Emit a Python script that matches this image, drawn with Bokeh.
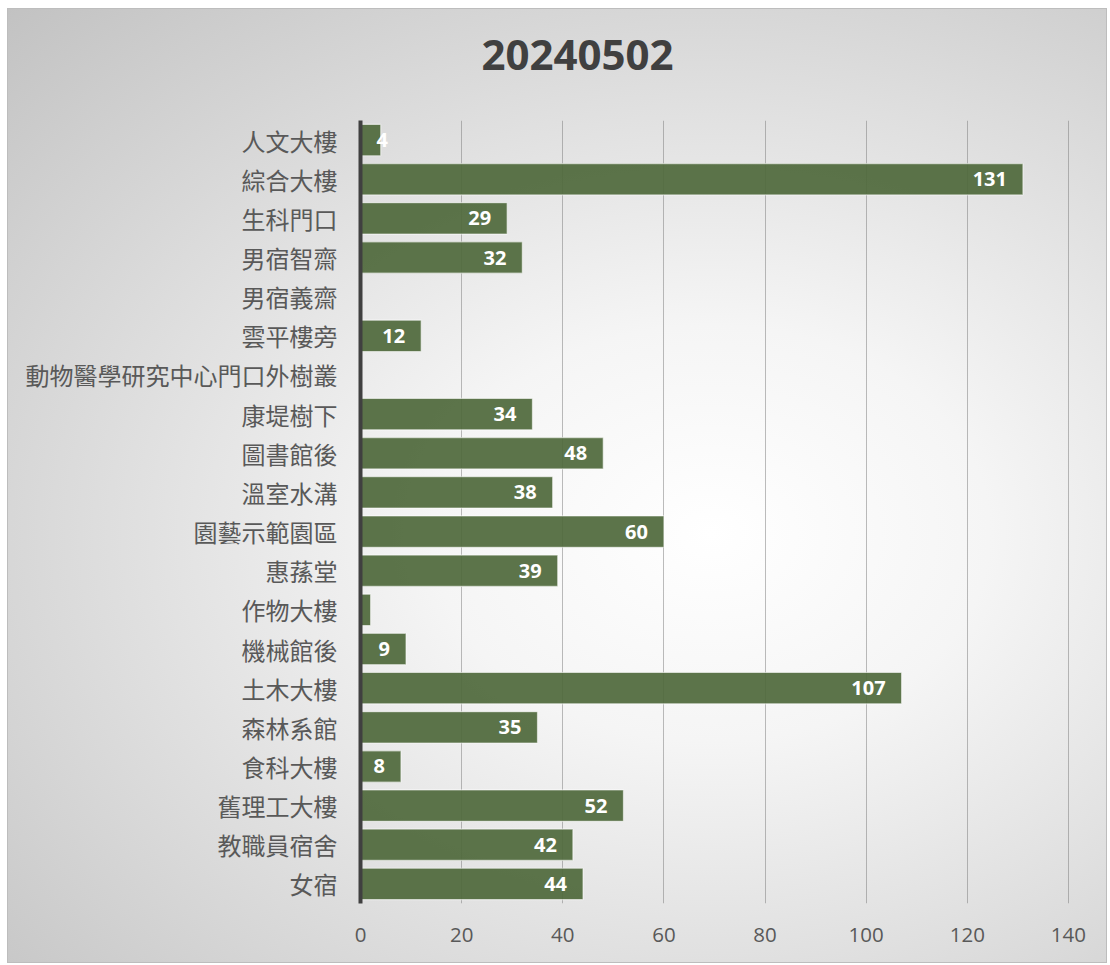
from bokeh.plotting import figure
from bokeh.models import ColumnDataSource, FactorRange, Range1d, FixedTicker, Title
from bokeh.core.properties import value
from bokeh.embed import file_html
from bokeh.resources import INLINE

title_text = "20240502"
categories = ["人文大樓", "綜合大樓", "生科門口", "男宿智齋", "男宿義齋", "雲平樓旁",
              "動物醫學研究中心門口外樹叢", "康堤樹下", "圖書館後", "溫室水溝", "園藝示範園區",
              "惠蓀堂", "作物大樓", "機械館後", "土木大樓", "森林系館", "食科大樓",
              "舊理工大樓", "教職員宿舍", "女宿"]
counts = [4, 131, 29, 32, 0, 12, 0, 34, 48, 38, 60, 39, 2, 9, 107, 35, 8, 52, 42, 44]
data_labels = ["4", "131", "29", "32", "", "12", "", "34", "48", "38", "60", "39", "",
               "9", "107", "35", "8", "52", "42", "44"]
x_ticks = [0, 20, 40, 60, 80, 100, 120, 140]

BAR = "#50693C"
TXT = "#595959"

p = figure(width=1100, height=955, output_backend="svg", toolbar_location=None,
           y_range=FactorRange(factors=categories[::-1]), x_range=Range1d(0, 141),
           min_border_left=353, min_border_right=34, min_border_top=112, min_border_bottom=60)
p.background_fill_alpha = 0
p.border_fill_alpha = 0
p.outline_line_color = None
p.styles = {
    "margin": "8px 0 0 7px",
    "background": "radial-gradient(ellipse farthest-corner at 64% 55%, #ffffff 0%, #f5f5f5 28%, #c2c2c2 100%)",
    "box-shadow": "inset 0 0 0 1px #bdbdbd",
}

# default title left empty; a blank spacer title sits next to the frame,
# the real title is stacked above it
p.title.text = ""
p.add_layout(Title(text=" ", text_font_size="10px", standoff=38), "above")
p.add_layout(Title(text=title_text, align="left", offset=121, standoff=0,
                   text_font="Open Sans", text_font_style="bold",
                   text_font_size="42px", text_color="#404040"), "above")

src = ColumnDataSource(dict(cat=categories, val=counts, lab=data_labels))
p.hbar(y="cat", left=0, right="val", height=0.8, source=src,
       fill_color=BAR, fill_alpha=0.93, line_color="white", line_alpha=0.55, line_width=1.2)

# labels at bar ends (long bars) and at bar base (very short bars)
end_idx = [i for i, v in enumerate(counts) if data_labels[i] and v >= 5]
base_idx = [i for i, v in enumerate(counts) if data_labels[i] and v < 5]
src_end = ColumnDataSource(dict(cat=[categories[i] for i in end_idx],
                                val=[counts[i] for i in end_idx],
                                lab=[data_labels[i] for i in end_idx]))
src_base = ColumnDataSource(dict(cat=[categories[i] for i in base_idx],
                                 val=[0 for i in base_idx],
                                 lab=[data_labels[i] for i in base_idx]))
common = dict(text="lab", text_color="white", text_font=value("Open Sans"),
              text_font_style="bold", text_font_size="20px", text_baseline="middle")
p.text(x="val", y="cat", source=src_end, text_align="right", x_offset=-16, **common)
p.text(x="val", y="cat", source=src_base, text_align="left", x_offset=16, **common)

# axes
p.xaxis.ticker = FixedTicker(ticks=x_ticks)
p.xaxis.axis_line_color = None
p.xaxis.major_tick_line_color = None
p.xaxis.minor_tick_line_color = None
p.xaxis.major_label_text_font = "Open Sans"
p.xaxis.major_label_text_font_size = "20.5px"
p.xaxis.major_label_text_color = TXT
p.xaxis.major_label_standoff = 18

p.yaxis.axis_line_color = "#404040"
p.yaxis.axis_line_width = 4
p.yaxis.major_tick_line_color = None
p.yaxis.minor_tick_line_color = None
p.yaxis.major_label_text_font = "Noto Sans CJK TC"
p.yaxis.major_label_text_font_size = "24px"
p.yaxis.major_label_text_color = TXT
p.yaxis.major_label_standoff = 17

p.ygrid.grid_line_color = None
p.xgrid.grid_line_color = "#7a7a7a"
p.xgrid.grid_line_alpha = 0.5
p.xgrid.grid_line_width = 1

open("out.html", "w").write(file_html(p, INLINE))
